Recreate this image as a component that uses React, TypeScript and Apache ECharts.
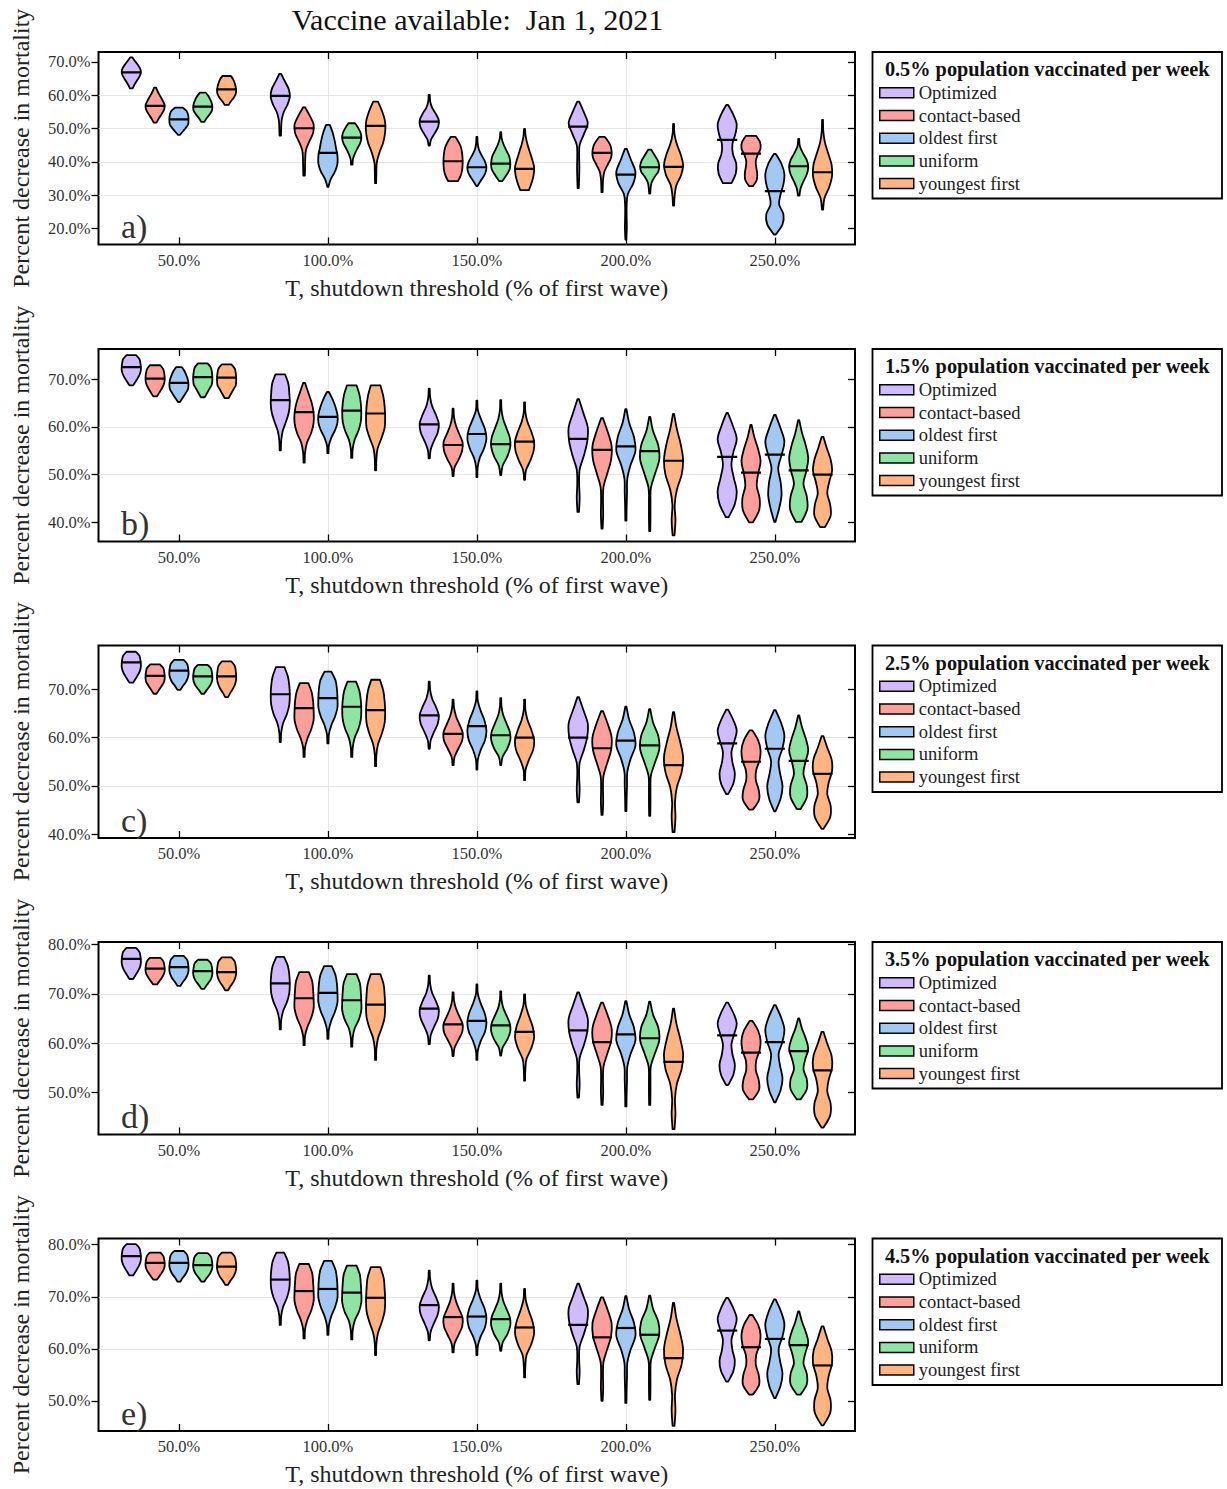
import React, { useEffect, useRef } from 'react';
import * as echarts from 'echarts';

// ---- data -------------------------------------------------------------
const thresholds = [50, 100, 150, 200, 250];
const strategies = ['Optimized', 'contact-based', 'oldest first', 'uniform', 'youngest first'];
const strategyColors = ['#d0bbff', '#ff9f9b', '#a1c9f4', '#8de5a1', '#ffb482'];
const vaccinationRates = ['0.5%', '1.5%', '2.5%', '3.5%', '4.5%'];
const panelLetters = ['a)', 'b)', 'c)', 'd)', 'e)'];
const yLimits = [
  [15.2, 73.0],
  [36.0, 76.3],
  [39.2, 79.1],
  [41.5, 80.5],
  [44.2, 81.2],
];
const yTicks = [
  [20, 30, 40, 50, 60, 70],
  [40, 50, 60, 70],
  [40, 50, 60, 70],
  [50, 60, 70, 80],
  [50, 60, 70, 80],
];

// Each violin, one row per threshold:
// [min, max, median, relative density at 9 evenly spaced levels from min to max]
const panelA = [
  [
    [62.1, 71.4, 66.9, 0.15, 0.35, 0.6, 0.85, 1, 0.95, 0.7, 0.4, 0.1],
    [47.9, 66.4, 59.8, 0.08, 0.1, 0.15, 0.35, 0.75, 1, 0.9, 0.5, 0.1],
    [44.9, 60.1, 52.1, 0.06, 0.2, 0.6, 0.95, 1, 0.7, 0.3, 0.1, 0.06],
    [32.1, 58.1, 50.6, 0.06, 0.1, 0.12, 0.1, 0.15, 0.6, 1, 0.6, 0.1],
    [33.6, 57.1, 46.6, 0.45, 0.9, 0.95, 0.6, 0.55, 0.85, 1, 0.65, 0.1],
  ],
  [
    [51.8, 62.3, 56.8, 0.15, 0.4, 0.7, 0.95, 1, 0.8, 0.55, 0.3, 0.1],
    [35.9, 56.4, 50.1, 0.08, 0.1, 0.12, 0.2, 0.55, 0.95, 1, 0.6, 0.1],
    [34.2, 47.5, 40.2, 0.5, 0.8, 0.95, 1, 1, 0.95, 0.85, 0.6, 0.25],
    [30.9, 47.5, 42.7, 0.06, 0.08, 0.12, 0.25, 0.6, 0.95, 1, 0.8, 0.3],
    [32.7, 47.8, 42.5, 0.2, 0.6, 0.65, 0.55, 0.5, 0.7, 1, 0.95, 0.55],
  ],
  [
    [48.1, 56.3, 52.8, 0.1, 0.4, 0.7, 0.95, 1, 1, 0.95, 0.8, 0.4],
    [32.5, 51.1, 42.7, 0.05, 0.3, 0.75, 1, 1, 0.85, 0.7, 0.5, 0.2],
    [32.7, 47.5, 38.4, 0.05, 0.45, 0.85, 1, 0.85, 0.5, 0.2, 0.08, 0.05],
    [16.7, 43.9, 36.2, 0.05, 0.1, 0.08, 0.08, 0.2, 0.8, 1, 0.55, 0.1],
    [18.2, 42.4, 31.2, 0.1, 0.8, 0.9, 0.45, 0.6, 0.9, 1, 0.7, 0.1],
  ],
  [
    [52.0, 60.8, 56.6, 0.15, 0.4, 0.7, 0.95, 1, 0.95, 0.8, 0.6, 0.3],
    [39.2, 51.6, 47.3, 0.08, 0.12, 0.3, 0.55, 0.85, 1, 0.95, 0.7, 0.35],
    [34.2, 48.9, 39.5, 0.15, 0.6, 0.95, 1, 0.9, 0.6, 0.3, 0.1, 0.05],
    [30.5, 43.7, 38.4, 0.06, 0.1, 0.2, 0.5, 0.9, 1, 0.85, 0.5, 0.15],
    [29.9, 46.9, 38.7, 0.08, 0.2, 0.5, 0.85, 1, 0.85, 0.45, 0.12, 0.05],
  ],
  [
    [57.1, 65.8, 61.8, 0.2, 0.45, 0.75, 0.95, 1, 0.95, 0.85, 0.7, 0.45],
    [33.6, 58.1, 50.8, 0.06, 0.08, 0.12, 0.4, 0.8, 1, 1, 0.7, 0.25],
    [31.5, 49.9, 37.9, 0.45, 0.75, 0.95, 1, 0.8, 0.55, 0.3, 0.12, 0.05],
    [26.9, 51.4, 38.5, 0.06, 0.12, 0.3, 0.8, 1, 0.75, 0.35, 0.1, 0.05],
    [25.7, 52.6, 36.9, 0.06, 0.2, 0.7, 1, 0.95, 0.6, 0.25, 0.08, 0.05],
  ],
];

const panelB = [
  [
    [68.7, 75.0, 72.5, 0.2, 0.45, 0.7, 0.9, 1, 1, 0.95, 0.85, 0.5],
    [55.1, 71.0, 65.6, 0.06, 0.1, 0.25, 0.6, 0.9, 1, 0.95, 0.85, 0.5],
    [53.4, 68.0, 60.5, 0.06, 0.15, 0.5, 0.9, 1, 0.7, 0.3, 0.1, 0.05],
    [42.2, 65.8, 57.5, 0.08, 0.15, 0.1, 0.15, 0.6, 0.95, 1, 0.55, 0.08],
    [41.1, 62.9, 53.7, 0.15, 0.8, 1, 0.7, 0.45, 0.65, 1, 0.6, 0.08],
  ],
  [
    [66.4, 72.9, 70.1, 0.2, 0.45, 0.7, 0.9, 1, 1, 0.95, 0.85, 0.55],
    [52.5, 69.2, 63.1, 0.06, 0.1, 0.3, 0.75, 1, 1, 0.8, 0.45, 0.1],
    [49.7, 63.8, 56.2, 0.05, 0.15, 0.6, 0.95, 1, 0.65, 0.3, 0.1, 0.05],
    [38.7, 61.8, 55.2, 0.06, 0.12, 0.1, 0.15, 0.55, 0.95, 1, 0.6, 0.1],
    [40.0, 60.4, 50.4, 0.2, 0.85, 0.9, 0.6, 0.75, 1, 0.75, 0.35, 0.06],
  ],
  [
    [65.2, 72.5, 69.2, 0.1, 0.4, 0.7, 0.95, 1, 0.95, 0.8, 0.6, 0.3],
    [54.5, 67.3, 62.1, 0.06, 0.1, 0.35, 0.75, 1, 1, 0.8, 0.5, 0.1],
    [49.5, 65.5, 58.5, 0.05, 0.08, 0.3, 0.75, 1, 0.85, 0.45, 0.1, 0.05],
    [40.4, 63.7, 55.9, 0.06, 0.08, 0.12, 0.15, 0.5, 1, 0.85, 0.35, 0.06],
    [40.1, 62.5, 54.2, 0.06, 0.45, 0.7, 0.6, 0.35, 0.7, 1, 0.6, 0.08],
  ],
  [
    [66.2, 73.3, 70.4, 0.2, 0.45, 0.7, 0.95, 1, 1, 0.95, 0.85, 0.5],
    [53.5, 68.7, 63.4, 0.06, 0.1, 0.3, 0.7, 0.95, 1, 0.95, 0.8, 0.5],
    [49.9, 65.6, 56.4, 0.05, 0.2, 0.7, 1, 0.95, 0.6, 0.25, 0.08, 0.05],
    [38.2, 62.1, 54.9, 0.06, 0.08, 0.08, 0.12, 0.55, 1, 0.9, 0.35, 0.06],
    [40.1, 61.4, 50.9, 0.3, 0.9, 0.85, 0.5, 0.8, 1, 0.75, 0.35, 0.06],
  ],
  [
    [66.0, 73.1, 70.3, 0.2, 0.45, 0.7, 0.95, 1, 1, 0.95, 0.85, 0.5],
    [50.9, 68.7, 62.8, 0.06, 0.08, 0.2, 0.6, 0.95, 1, 0.95, 0.8, 0.5],
    [48.9, 65.1, 56.9, 0.05, 0.15, 0.6, 0.95, 1, 0.7, 0.3, 0.08, 0.05],
    [37.3, 62.7, 52.9, 0.1, 0.2, 0.12, 0.35, 0.85, 1, 0.75, 0.35, 0.06],
    [39.0, 57.9, 50.0, 0.25, 0.85, 0.8, 0.5, 0.7, 1, 0.85, 0.45, 0.1],
  ],
];

const panelC = [
  [
    [71.4, 77.8, 75.6, 0.2, 0.45, 0.7, 0.9, 1, 1, 0.95, 0.85, 0.5],
    [59.1, 74.6, 69.0, 0.06, 0.1, 0.3, 0.7, 0.95, 1, 0.95, 0.8, 0.45],
    [57.7, 71.6, 64.6, 0.06, 0.15, 0.5, 0.9, 1, 0.7, 0.3, 0.1, 0.05],
    [46.6, 68.4, 60.0, 0.08, 0.15, 0.1, 0.15, 0.6, 0.95, 1, 0.55, 0.08],
    [48.3, 65.8, 58.8, 0.1, 0.65, 0.8, 0.55, 0.45, 0.75, 1, 0.65, 0.1],
  ],
  [
    [69.1, 75.2, 72.8, 0.15, 0.4, 0.65, 0.9, 1, 1, 0.95, 0.85, 0.5],
    [56.0, 71.3, 66.1, 0.06, 0.1, 0.35, 0.75, 1, 1, 0.95, 0.8, 0.45],
    [54.3, 67.9, 60.8, 0.06, 0.15, 0.55, 0.95, 1, 0.65, 0.3, 0.1, 0.05],
    [44.0, 65.5, 57.8, 0.06, 0.12, 0.1, 0.15, 0.55, 0.95, 1, 0.6, 0.1],
    [45.1, 61.5, 55.0, 0.2, 0.85, 0.8, 0.5, 0.55, 0.9, 1, 0.75, 0.15],
  ],
  [
    [69.9, 76.1, 73.9, 0.15, 0.4, 0.7, 0.9, 1, 1, 0.95, 0.85, 0.5],
    [58.8, 73.7, 68.2, 0.06, 0.1, 0.35, 0.75, 1, 1, 0.95, 0.8, 0.35],
    [53.4, 69.6, 62.4, 0.05, 0.1, 0.4, 0.85, 1, 0.8, 0.4, 0.1, 0.05],
    [44.8, 66.4, 59.4, 0.06, 0.08, 0.12, 0.15, 0.5, 1, 0.85, 0.35, 0.06],
    [44.7, 65.7, 57.7, 0.06, 0.6, 0.8, 0.55, 0.4, 0.8, 1, 0.65, 0.08],
  ],
  [
    [69.1, 75.1, 72.7, 0.15, 0.4, 0.7, 0.9, 1, 1, 0.95, 0.85, 0.5],
    [56.0, 71.6, 66.4, 0.06, 0.1, 0.3, 0.7, 0.95, 1, 0.95, 0.8, 0.45],
    [54.3, 68.2, 60.5, 0.05, 0.2, 0.7, 1, 0.95, 0.6, 0.25, 0.08, 0.05],
    [43.8, 65.9, 58.4, 0.06, 0.08, 0.08, 0.12, 0.55, 1, 0.9, 0.35, 0.06],
    [45.2, 64.6, 55.2, 0.2, 0.85, 0.85, 0.5, 0.7, 1, 0.75, 0.35, 0.06],
  ],
  [
    [68.4, 75.8, 72.7, 0.15, 0.4, 0.7, 0.9, 1, 1, 0.95, 0.85, 0.5],
    [54.1, 72.0, 65.7, 0.06, 0.08, 0.25, 0.65, 0.95, 1, 0.95, 0.8, 0.45],
    [51.2, 67.9, 60.0, 0.05, 0.1, 0.45, 0.9, 1, 0.7, 0.3, 0.08, 0.05],
    [40.4, 65.3, 54.3, 0.1, 0.2, 0.15, 0.35, 0.85, 1, 0.7, 0.3, 0.06],
    [41.1, 60.3, 52.5, 0.1, 0.8, 0.85, 0.5, 0.65, 1, 0.95, 0.5, 0.1],
  ],
];

const panelD = [
  [
    [73.0, 79.3, 77.1, 0.2, 0.45, 0.7, 0.9, 1, 1, 0.95, 0.85, 0.5],
    [62.8, 77.5, 72.1, 0.06, 0.1, 0.3, 0.7, 0.95, 1, 0.95, 0.8, 0.4],
    [59.8, 73.7, 67.0, 0.06, 0.15, 0.5, 0.9, 1, 0.7, 0.3, 0.1, 0.05],
    [49.0, 70.3, 62.6, 0.08, 0.15, 0.1, 0.15, 0.6, 0.95, 1, 0.55, 0.08],
    [51.5, 68.2, 61.6, 0.1, 0.65, 0.8, 0.55, 0.45, 0.75, 1, 0.65, 0.1],
  ],
  [
    [71.9, 77.3, 75.1, 0.2, 0.45, 0.7, 0.9, 1, 1, 0.95, 0.85, 0.55],
    [59.6, 74.4, 69.1, 0.06, 0.1, 0.35, 0.75, 1, 1, 0.95, 0.85, 0.5],
    [57.4, 70.3, 63.8, 0.06, 0.15, 0.55, 0.95, 1, 0.65, 0.3, 0.1, 0.05],
    [47.5, 68.2, 60.2, 0.06, 0.12, 0.1, 0.15, 0.55, 0.95, 1, 0.6, 0.1],
    [48.6, 64.5, 58.1, 0.2, 0.85, 0.8, 0.5, 0.55, 0.9, 1, 0.75, 0.15],
  ],
  [
    [71.6, 77.7, 75.4, 0.15, 0.4, 0.7, 0.9, 1, 1, 0.95, 0.85, 0.5],
    [60.9, 75.6, 70.2, 0.06, 0.1, 0.35, 0.75, 1, 1, 0.95, 0.8, 0.4],
    [56.6, 71.9, 64.5, 0.05, 0.1, 0.4, 0.85, 1, 0.8, 0.4, 0.1, 0.05],
    [47.2, 68.5, 61.8, 0.06, 0.08, 0.12, 0.15, 0.5, 1, 0.85, 0.35, 0.06],
    [48.0, 67.7, 60.2, 0.06, 0.6, 0.8, 0.55, 0.4, 0.8, 1, 0.65, 0.08],
  ],
  [
    [71.0, 76.9, 74.6, 0.15, 0.4, 0.7, 0.9, 1, 1, 0.95, 0.85, 0.5],
    [59.3, 74.0, 68.7, 0.06, 0.1, 0.3, 0.75, 1, 1, 0.95, 0.85, 0.5],
    [57.5, 70.5, 63.6, 0.05, 0.2, 0.7, 1, 0.95, 0.6, 0.25, 0.08, 0.05],
    [47.5, 68.4, 61.0, 0.06, 0.08, 0.08, 0.12, 0.55, 1, 0.9, 0.35, 0.06],
    [48.6, 65.0, 58.4, 0.2, 0.85, 0.85, 0.5, 0.7, 1, 0.75, 0.35, 0.06],
  ],
  [
    [70.7, 77.4, 74.4, 0.15, 0.4, 0.7, 0.9, 1, 1, 0.95, 0.85, 0.5],
    [56.6, 74.0, 67.8, 0.06, 0.08, 0.25, 0.65, 0.95, 1, 0.95, 0.85, 0.5],
    [52.4, 69.9, 62.3, 0.05, 0.08, 0.2, 0.7, 1, 0.85, 0.45, 0.12, 0.05],
    [42.6, 67.0, 56.2, 0.1, 0.2, 0.15, 0.35, 0.85, 1, 0.7, 0.3, 0.06],
    [42.9, 62.3, 54.5, 0.1, 0.8, 0.85, 0.5, 0.65, 1, 0.95, 0.5, 0.1],
  ],
];

const panelE = [
  [
    [74.1, 80.1, 77.8, 0.2, 0.45, 0.7, 0.9, 1, 1, 0.95, 0.85, 0.5],
    [64.6, 78.5, 73.3, 0.06, 0.1, 0.3, 0.7, 0.95, 1, 0.95, 0.8, 0.4],
    [61.6, 75.0, 68.4, 0.06, 0.15, 0.5, 0.9, 1, 0.7, 0.3, 0.1, 0.05],
    [53.2, 72.5, 64.6, 0.08, 0.15, 0.1, 0.15, 0.6, 0.95, 1, 0.55, 0.08],
    [53.7, 69.8, 63.5, 0.1, 0.65, 0.8, 0.55, 0.45, 0.75, 1, 0.65, 0.1],
  ],
  [
    [73.3, 78.5, 76.5, 0.2, 0.45, 0.7, 0.9, 1, 1, 0.95, 0.85, 0.55],
    [62.0, 76.3, 71.1, 0.06, 0.1, 0.35, 0.75, 1, 1, 0.95, 0.85, 0.5],
    [59.3, 72.5, 66.1, 0.06, 0.15, 0.55, 0.95, 1, 0.65, 0.3, 0.1, 0.05],
    [50.0, 69.9, 62.2, 0.06, 0.12, 0.1, 0.15, 0.55, 0.95, 1, 0.6, 0.1],
    [51.2, 66.5, 60.3, 0.2, 0.85, 0.8, 0.5, 0.55, 0.9, 1, 0.75, 0.15],
  ],
  [
    [72.9, 78.8, 76.5, 0.15, 0.4, 0.7, 0.9, 1, 1, 0.95, 0.85, 0.5],
    [62.7, 76.9, 71.5, 0.06, 0.1, 0.35, 0.75, 1, 1, 0.95, 0.8, 0.4],
    [58.8, 73.1, 66.2, 0.05, 0.1, 0.4, 0.85, 1, 0.8, 0.4, 0.1, 0.05],
    [49.6, 70.1, 64.0, 0.06, 0.08, 0.12, 0.15, 0.5, 1, 0.85, 0.35, 0.06],
    [50.5, 69.5, 61.9, 0.06, 0.6, 0.8, 0.55, 0.4, 0.8, 1, 0.65, 0.08],
  ],
  [
    [72.9, 78.4, 76.1, 0.15, 0.4, 0.7, 0.9, 1, 1, 0.95, 0.85, 0.5],
    [61.8, 76.0, 70.8, 0.06, 0.1, 0.3, 0.75, 1, 1, 0.95, 0.85, 0.5],
    [59.6, 72.5, 65.7, 0.05, 0.2, 0.7, 1, 0.95, 0.6, 0.25, 0.08, 0.05],
    [50.2, 70.2, 62.7, 0.06, 0.08, 0.08, 0.12, 0.55, 1, 0.9, 0.35, 0.06],
    [51.2, 67.2, 60.7, 0.2, 0.85, 0.85, 0.5, 0.7, 1, 0.75, 0.35, 0.06],
  ],
  [
    [72.3, 78.5, 75.8, 0.15, 0.4, 0.7, 0.9, 1, 1, 0.95, 0.85, 0.5],
    [58.8, 75.7, 69.8, 0.06, 0.08, 0.25, 0.65, 0.95, 1, 0.95, 0.85, 0.5],
    [54.5, 71.5, 64.1, 0.05, 0.08, 0.2, 0.7, 1, 0.85, 0.45, 0.12, 0.05],
    [45.2, 68.8, 58.2, 0.1, 0.2, 0.15, 0.35, 0.85, 1, 0.7, 0.3, 0.06],
    [45.3, 64.3, 56.8, 0.1, 0.8, 0.85, 0.5, 0.65, 1, 0.95, 0.5, 0.1],
  ],
];

const panels = [panelA, panelB, panelC, panelD, panelE];

// ---- layout -----------------------------------------------------------
const FONT = '"Liberation Serif", "DejaVu Serif", serif';
const GRID_LEFT = 98.5;
const GRID_WIDTH = 756.5;
const GRID_TOPS = [52, 349, 645.5, 942, 1238.5];
const GRID_HEIGHT = 192.5;
const X_MIN = 23.0;
const X_MAX = 276.9;
const STRATEGY_OFFSET = 8; // spacing between strategies inside a threshold group (x units)
const HALF_WIDTH = 3.2; // half of the widest part of a violin (x units)
const LEVELS = 9;
const LEGEND_LEFT = 872.5;
const LEGEND_WIDTH = 349.5;
const LEGEND_HEIGHT = 146.5;

const pct = (v: number) => v.toFixed(1) + '%';

// Catmull-Rom spline through the points, as cubic bezier segments
function spline(pts: number[][]): string {
  let d = '';
  for (let i = 0; i < pts.length - 1; i++) {
    const p0 = pts[Math.max(i - 1, 0)];
    const p1 = pts[i];
    const p2 = pts[i + 1];
    const p3 = pts[Math.min(i + 2, pts.length - 1)];
    const c1x = p1[0] + (p2[0] - p0[0]) / 6;
    const c1y = p1[1] + (p2[1] - p0[1]) / 6;
    const c2x = p2[0] - (p3[0] - p1[0]) / 6;
    const c2y = p2[1] - (p3[1] - p1[1]) / 6;
    d += ` C${c1x.toFixed(2)},${c1y.toFixed(2)} ${c2x.toFixed(2)},${c2y.toFixed(2)} ${p2[0].toFixed(2)},${p2[1].toFixed(2)}`;
  }
  return d;
}

const makeViolinRenderer = (color: string) => (_params: any, api: any) => {
  const x = api.value(0);
  const lo = api.value(1);
  const hi = api.value(2);
  const med = api.value(3);
  const hw = api.size([HALF_WIDTH, 0])[0];
  const cx = api.coord([x, lo])[0];
  const right: number[][] = [];
  const left: number[][] = [];
  for (let k = 0; k < LEVELS; k++) {
    const v = lo + ((hi - lo) * k) / (LEVELS - 1);
    const y = api.coord([x, v])[1];
    const w = api.value(4 + k) * hw;
    right.push([cx + w, y]);
    left.unshift([cx - w, y]);
  }
  const d =
    `M${right[0][0].toFixed(2)},${right[0][1].toFixed(2)}` +
    spline(right) +
    ` L${left[0][0].toFixed(2)},${left[0][1].toFixed(2)}` +
    spline(left) +
    ' Z';
  const ym = api.coord([x, med])[1];
  return {
    type: 'group',
    children: [
      {
        type: 'path',
        shape: { pathData: d },
        style: { fill: color, stroke: '#000', lineWidth: 1.8, lineJoin: 'round' },
      },
      {
        type: 'line',
        shape: { x1: cx - hw - 0.5, y1: ym, x2: cx + hw + 0.5, y2: ym },
        style: { stroke: '#000', lineWidth: 2.2 },
      },
    ],
  };
};

function buildOption() {
  const grid: any[] = [];
  const xAxis: any[] = [];
  const yAxis: any[] = [];
  const series: any[] = [];
  const legend: any[] = [];
  const graphic: any[] = [];

  const tickLine = { color: '#000', width: 1.3 };
  const gridLine = { color: '#e6e6e6', width: 1 };

  graphic.push({
    type: 'text',
    x: 477.5,
    y: 19,
    style: {
      text: 'Vaccine available:  Jan 1, 2021',
      fontSize: 30,
      fontFamily: FONT,
      fill: '#111',
      align: 'center',
      verticalAlign: 'middle',
    },
  });

  panels.forEach((panel, p) => {
    const top = GRID_TOPS[p];
    grid.push({
      left: GRID_LEFT,
      top,
      width: GRID_WIDTH,
      height: GRID_HEIGHT,
      show: true,
      borderColor: '#000',
      borderWidth: 2,
      backgroundColor: 'transparent',
    });

    xAxis.push({
      type: 'value',
      gridIndex: p,
      min: X_MIN,
      max: X_MAX,
      axisLine: { show: false },
      axisTick: { show: true, inside: true, length: 7, lineStyle: tickLine, customValues: thresholds },
      axisLabel: {
        customValues: thresholds,
        formatter: pct,
        margin: 7,
        fontSize: 16.5,
        fontFamily: FONT,
        color: '#333',
      },
      splitLine: { show: true, showMinLine: false, showMaxLine: false, lineStyle: gridLine },
      name: 'T, shutdown threshold (% of first wave)',
      nameLocation: 'middle',
      nameGap: 31,
      nameTextStyle: { fontSize: 24, fontFamily: FONT, color: '#222' },
    });
    xAxis.push({
      type: 'value',
      gridIndex: p,
      position: 'top',
      min: X_MIN,
      max: X_MAX,
      axisLine: { show: false },
      axisTick: { show: true, inside: true, length: 7, lineStyle: tickLine, customValues: thresholds },
      axisLabel: { show: false },
      splitLine: { show: false },
    });

    const [yMin, yMax] = yLimits[p];
    yAxis.push({
      type: 'value',
      gridIndex: p,
      min: yMin,
      max: yMax,
      axisLine: { show: false },
      axisTick: { show: true, inside: false, length: 7, lineStyle: tickLine, customValues: yTicks[p] },
      axisLabel: {
        customValues: yTicks[p],
        formatter: pct,
        margin: 8,
        fontSize: 16.5,
        fontFamily: FONT,
        color: '#333',
      },
      splitLine: { show: true, showMinLine: false, showMaxLine: false, lineStyle: gridLine },
      name: 'Percent decrease in mortality',
      nameLocation: 'middle',
      nameGap: 66,
      nameRotate: 90,
      nameTextStyle: { fontSize: 24, fontFamily: FONT, color: '#222' },
    });
    yAxis.push({
      type: 'value',
      gridIndex: p,
      position: 'right',
      min: yMin,
      max: yMax,
      axisLine: { show: false },
      axisTick: { show: true, inside: true, length: 7, lineStyle: tickLine, customValues: yTicks[p] },
      axisLabel: { show: false },
      splitLine: { show: false },
    });

    strategies.forEach((name, s) => {
      series.push({
        type: 'custom',
        name,
        xAxisIndex: 2 * p,
        yAxisIndex: 2 * p,
        clip: true,
        silent: true,
        itemStyle: { color: strategyColors[s] },
        encode: { x: 0, y: [1, 2] },
        data: panel[s].map((row, t) => [thresholds[t] + (s - 2) * STRATEGY_OFFSET, ...row]),
        renderItem: makeViolinRenderer(strategyColors[s]),
      });
    });

    // legend box with its heading
    graphic.push({
      type: 'rect',
      shape: { x: LEGEND_LEFT, y: top, width: LEGEND_WIDTH, height: LEGEND_HEIGHT },
      style: { fill: '#fff', stroke: '#000', lineWidth: 1.8 },
      z: 1,
    });
    graphic.push({
      type: 'text',
      x: LEGEND_LEFT + LEGEND_WIDTH / 2,
      y: top + 17,
      z: 2,
      style: {
        text: `${vaccinationRates[p]} population vaccinated per week`,
        fontSize: 20.3,
        fontWeight: 'bold',
        fontFamily: FONT,
        fill: '#111',
        align: 'center',
        verticalAlign: 'middle',
      },
    });
    legend.push({
      orient: 'vertical',
      left: LEGEND_LEFT + 6.5,
      top: top + 31.3,
      padding: 0,
      itemWidth: 34,
      itemHeight: 10,
      itemGap: 3.7,
      icon: 'rect',
      selectedMode: false,
      z: 5,
      textStyle: { fontSize: 18.5, fontFamily: FONT, color: '#222', lineHeight: 18 },
      data: strategies.map((name, s) => ({
        name,
        itemStyle: { color: strategyColors[s], borderColor: '#000', borderWidth: 1.5 },
      })),
    });

    // panel letter
    graphic.push({
      type: 'text',
      x: 121,
      y: top + GRID_HEIGHT - 1,
      z: 3,
      style: {
        text: panelLetters[p],
        fontSize: 34,
        fontFamily: FONT,
        fill: '#333',
        align: 'left',
        verticalAlign: 'bottom',
      },
    });
  });

  return {
    animation: false,
    backgroundColor: '#fff',
    textStyle: { fontFamily: FONT },
    grid,
    xAxis,
    yAxis,
    legend,
    series,
    graphic,
  };
}

export default function App() {
  const ref = useRef<HTMLDivElement>(null);
  useEffect(() => {
    document.body.style.margin = '0';
    if (!ref.current) return;
    const chart = echarts.init(ref.current, null, { renderer: 'svg' });
    chart.setOption(buildOption() as any);
    return () => chart.dispose();
  }, []);
  return <div ref={ref} style={{ width: 1227, height: 1489 }} />;
}
